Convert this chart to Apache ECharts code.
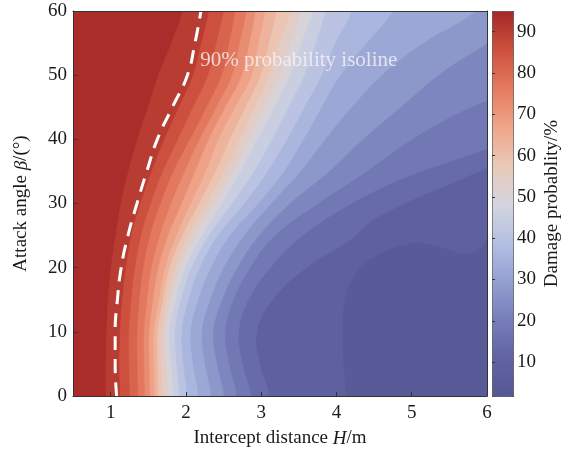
<!DOCTYPE html>
<html><head><meta charset="utf-8">
<script src="https://cdn.jsdelivr.net/npm/echarts@6/dist/echarts.min.js"></script>
<style>html,body{margin:0;padding:0;background:#fff}#c{width:568px;height:454px}</style>
</head><body><div id="c"></div>
<script>
// ---- data ----
// contour levels (damage probability, %)
const levels = [7, 11.5, 16, 20.5, 25, 29.5, 34, 38.5, 43, 47.5, 52, 56.5, 61, 65.5, 70, 74.5, 79, 83.5, 88, 92.5];
// representative value of each filled band: base band (<7), then the band above each level
const bandValues = [4.4, 9.25, 13.75, 18.25, 22.75, 27.25, 31.75, 36.25, 40.75, 45.25, 49.75, 54.25, 58.75, 63.25, 67.75, 72.25, 76.75, 81.25, 85.75, 90.25, 93.75];
// each contour traced as [H (m), beta (deg)] points, from the bottom edge upward
const iso07 = [[4.12,0],[4.08,7],[4.10,14.5],[4.22,18.5],[4.48,21.6],[5.0,23.8],[5.35,23.3],[5.7,22.2],[5.92,23.2],[6.1,26]];
const iso12 = [[3.10,0],[2.98,5],[2.94,10],[3.15,15],[3.6,20],[4.2,24.5],[4.48,27.4],[5.0,30.5],[5.5,33],[6.1,36]];
const iso16 = [[2.86,0],[2.75,5],[2.70,10],[2.83,15],[3.12,20],[3.55,25],[4.2,30],[4.9,34],[5.5,36.5],[6.1,39]];
const iso21 = [[2.67,0],[2.57,5],[2.52,10],[2.63,15],[2.85,20],[3.18,25],[3.75,30],[4.4,35],[5.0,40],[5.6,44],[6.1,46.5]];
const iso25 = [[2.50,0],[2.41,5],[2.36,10],[2.48,15],[2.68,20],[2.97,25],[3.38,30],[3.9,35],[4.35,40],[4.85,45],[5.35,50],[5.8,53.5],[6.1,55.5]];
const iso30 = [[2.33,0],[2.25,5],[2.21,10],[2.32,15],[2.50,20],[2.77,25],[3.13,30],[3.52,35],[3.85,40],[4.2,45],[4.6,50],[5.15,55],[5.85,60]];
const iso34 = [[2.16,0],[2.09,5],[2.06,10],[2.16,15],[2.33,20],[2.58,25],[2.96,30],[3.3,35],[3.56,40],[3.8,45],[4.05,50],[4.4,55],[4.75,60]];
const iso39 = [[2.01,0],[1.96,5],[1.94,10],[2.03,15],[2.18,20],[2.42,25],[2.77,30],[3.08,35],[3.34,40],[3.57,45],[3.8,50],[3.98,55],[4.2,60]];
const iso43 = [[1.91,0],[1.87,5],[1.85,10],[1.93,15],[2.07,20],[2.30,25],[2.61,30],[2.9,35],[3.14,40],[3.36,45],[3.57,50],[3.72,55],[3.85,60]];
const iso48 = [[1.83,0],[1.80,5],[1.78,10],[1.86,15],[1.99,20],[2.21,25],[2.47,30],[2.72,35],[2.95,40],[3.17,45],[3.38,50],[3.53,55],[3.68,60]];
const iso52 = [[1.76,0],[1.73,5],[1.72,10],[1.80,15],[1.92,20],[2.12,25],[2.37,30],[2.62,35],[2.83,40],[3.04,45],[3.25,50],[3.39,55],[3.52,60]];
const iso57 = [[1.69,0],[1.67,5],[1.67,10],[1.74,15],[1.85,20],[2.03,25],[2.27,30],[2.51,35],[2.71,40],[2.91,45],[3.1,50],[3.24,55],[3.38,60]];
const iso61 = [[1.63,0],[1.62,5],[1.62,10],[1.69,15],[1.78,20],[1.95,25],[2.17,30],[2.39,35],[2.58,40],[2.79,45],[2.99,50],[3.1,55],[3.2,60]];
const iso66 = [[1.58,0],[1.57,5],[1.57,10],[1.64,15],[1.72,20],[1.87,25],[2.06,30],[2.26,35],[2.43,40],[2.65,45],[2.87,50],[2.96,55],[3.05,60]];
const iso70 = [[1.52,0],[1.51,5],[1.51,10],[1.56,15],[1.63,20],[1.76,25],[1.94,30],[2.12,35],[2.30,40],[2.52,45],[2.74,50],[2.84,55],[2.92,60]];
const iso75 = [[1.45,0],[1.44,5],[1.44,10],[1.48,15],[1.54,20],[1.65,25],[1.80,30],[1.98,35],[2.18,40],[2.40,45],[2.61,50],[2.71,55],[2.80,60]];
const iso79 = [[1.36,0],[1.35,5],[1.35,10],[1.38,15],[1.43,20],[1.52,25],[1.66,30],[1.83,35],[2.05,40],[2.27,45],[2.47,50],[2.57,55],[2.65,60]];
const iso84 = [[1.25,0],[1.24,5],[1.24,10],[1.27,15],[1.32,20],[1.40,25],[1.53,30],[1.69,35],[1.89,40],[2.09,45],[2.29,50],[2.40,55],[2.50,60]];
const iso88 = [[1.12,0],[1.11,5],[1.12,10],[1.15,15],[1.20,20],[1.27,25],[1.39,30],[1.54,35],[1.71,40],[1.90,45],[2.09,50],[2.20,55],[2.30,60]];
const iso93 = [[0.93,0],[0.93,5],[0.94,10],[0.96,15],[1.00,20],[1.06,25],[1.13,30],[1.23,35],[1.35,40],[1.49,45],[1.63,50],[1.80,55],[1.95,60]];
const contours = [iso07, iso12, iso16, iso21, iso25, iso30, iso34, iso39, iso43, iso48, iso52, iso57, iso61, iso66, iso70, iso75, iso79, iso84, iso88, iso93];
// 90% probability isoline (dashed), [H, beta]
const iso90 = [[1.08,0],[1.06,5],[1.06,10],[1.09,15],[1.14,20],[1.23,25],[1.35,30],[1.48,35],[1.62,40],[1.82,45],[2.02,50],[2.12,55],[2.20,60]];
const xTicks = [1, 2, 3, 4, 5, 6];
const cbTicks = [10, 20, 30, 40, 50, 60, 70, 80, 90];
const cbMin = 1.8, cbMax = 95;
const cmapColors = ['#565694', '#6163a2', '#777eba', '#94a0d0', '#b4c0e3', '#d4d5de', '#eac8b7', '#f0a58a', '#e47a5f', '#cd503e', '#a52828'];

// ---- chart ----
const FONT = "'Liberation Serif','Times New Roman',serif";
const TXT = '#1a1a1a';
const X0 = 0.5, X1 = 6, Y0 = 0, Y1 = 60;
const chart = echarts.init(document.getElementById('c'), null, {renderer: 'canvas'});
const bandData = bandValues.map((v, i) => [v, i - 1]);

function renderBand(params, api) {
  const k = api.value(1);
  const color = api.visual('color');
  if (k < 0) {
    const p0 = api.coord([X0, Y1]);
    const p1 = api.coord([X1, Y0]);
    return {type: 'rect', shape: {x: p0[0], y: p0[1], width: p1[0] - p0[0], height: p1[1] - p0[1]}, style: {fill: color}};
  }
  const path = contours[k];
  const n = path.length;
  const first = path[0], last = path[n - 1];
  const pts = [api.coord([X0 - 1, Y0 - 8]), api.coord([first[0], Y0 - 8])];
  path.forEach(p => pts.push(api.coord(p)));
  if (last[1] >= Y1) {
    const prev = path[n - 2];
    pts.push(api.coord([last[0] + (last[0] - prev[0]), Y1 + 8]));
  } else {
    pts.push(api.coord([X1 + 1, last[1] + 4]));
    pts.push(api.coord([X1 + 1, Y1 + 8]));
  }
  pts.push(api.coord([X0 - 1, Y1 + 8]));
  return {type: 'polygon', shape: {points: pts, smooth: 0.4}, style: {fill: color, stroke: color, lineWidth: 0.6}};
}

const option = {
  animation: false,
  backgroundColor: '#fff',
  grid: [
    {left: 73, top: 11, width: 414, height: 385, show: false},
    {left: 492, top: 11, width: 21, height: 385, show: false}
  ],
  xAxis: [
    {type: 'value', gridIndex: 0, min: X0, max: X1, z: 10,
     axisLine: {show: true, onZero: false, lineStyle: {color: '#333', width: 1}},
     axisTick: {show: true, inside: true, length: 4, customValues: xTicks, lineStyle: {color: '#333'}},
     axisLabel: {customValues: xTicks, fontFamily: FONT, fontSize: 19, color: TXT, margin: 8},
     splitLine: {show: false},
     name: '{r|Intercept distance }{i|H}{r|/m}', nameLocation: 'middle', nameGap: 33,
     nameTextStyle: {rich: {r: {fontFamily: FONT, fontSize: 19, color: TXT}, i: {fontFamily: FONT, fontSize: 19, color: TXT, fontStyle: 'italic'}}}},
    {type: 'value', gridIndex: 0, position: 'top', min: X0, max: X1, z: 10,
     axisLine: {show: true, onZero: false, lineStyle: {color: '#333', width: 1}},
     axisTick: {show: false}, axisLabel: {show: false}, splitLine: {show: false}},
    {type: 'value', gridIndex: 1, min: 0, max: 1, show: false}
  ],
  yAxis: [
    {type: 'value', gridIndex: 0, min: Y0, max: Y1, interval: 10, z: 10,
     axisLine: {show: true, onZero: false, lineStyle: {color: '#333', width: 1}},
     axisTick: {show: true, inside: true, length: 4, lineStyle: {color: '#333'}},
     axisLabel: {fontFamily: FONT, fontSize: 19, color: TXT, margin: 6},
     splitLine: {show: false},
     name: '{r|Attack angle }{i|β}{r|/(°)}', nameLocation: 'middle', nameGap: 42, nameRotate: 90,
     nameTextStyle: {rich: {r: {fontFamily: FONT, fontSize: 19, color: TXT}, i: {fontFamily: FONT, fontSize: 19, color: TXT, fontStyle: 'italic'}}}},
    {type: 'value', gridIndex: 0, position: 'right', min: Y0, max: Y1, z: 10,
     axisLine: {show: true, onZero: false, lineStyle: {color: '#333', width: 1}},
     axisTick: {show: false}, axisLabel: {show: false}, splitLine: {show: false}},
    {type: 'value', gridIndex: 1, position: 'right', min: cbMin, max: cbMax, z: 10,
     axisLine: {show: false},
     axisTick: {show: true, inside: false, length: 3, customValues: cbTicks, lineStyle: {color: '#333'}},
     axisLabel: {customValues: cbTicks, fontFamily: FONT, fontSize: 19, color: TXT, margin: 4},
     splitLine: {show: false},
     name: 'Damage probablity/%', nameLocation: 'middle', nameGap: 30, nameRotate: 90,
     nameTextStyle: {fontFamily: FONT, fontSize: 19, color: TXT}}
  ],
  visualMap: {
    type: 'continuous', min: cbMin, max: cbMax, dimension: 0, seriesIndex: 0,
    inRange: {color: cmapColors}, calculable: false, hoverLink: false,
    left: 492, top: 11, itemWidth: 21, itemHeight: 385, padding: 0,
    borderColor: '#444', borderWidth: 1, text: null, showLabel: false
  },
  series: [
    {type: 'custom', xAxisIndex: 0, yAxisIndex: 0, clip: true, renderItem: renderBand, data: bandData, z: 2, silent: true},
    {type: 'line', xAxisIndex: 0, yAxisIndex: 0, data: iso90, smooth: true, symbol: 'none', z: 5, silent: true,
     lineStyle: {color: '#ffffff', width: 3, type: [14, 9]}},
    {type: 'scatter', xAxisIndex: 0, yAxisIndex: 0, data: [[2.19, 52.3]], symbolSize: 0, z: 6, silent: true,
     label: {show: true, position: 'right', distance: 0, formatter: '90% probability isoline',
             fontFamily: FONT, fontSize: 21, color: '#f6f3f6'}}
  ]
};
chart.setOption(option);
</script>
</body></html>
